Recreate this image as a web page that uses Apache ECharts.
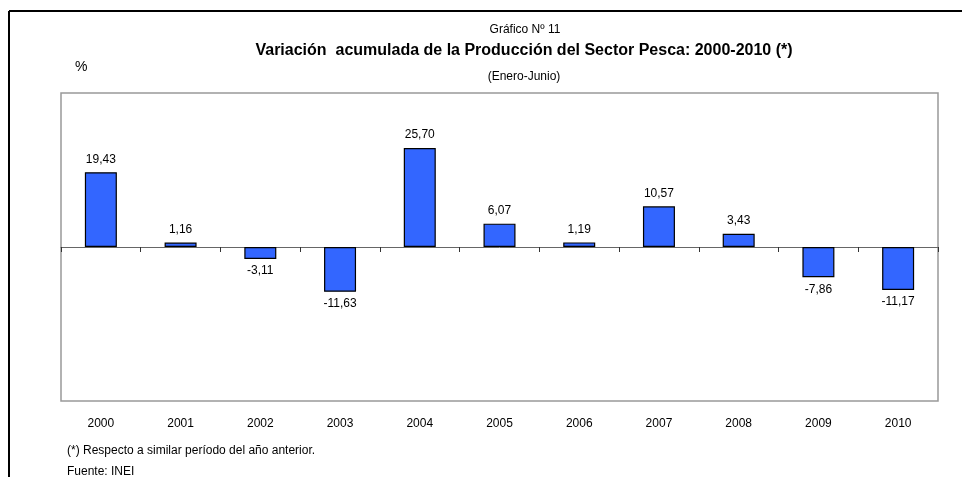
<!DOCTYPE html>
<html>
<head>
<meta charset="utf-8">
<script src="https://cdn.jsdelivr.net/npm/echarts@6/dist/echarts.min.js"></script>
<style>
  html, body { margin: 0; padding: 0; background: #fff; }
  #chart { width: 962px; height: 477px; }
</style>
</head>
<body>
<div id="chart"></div>
<script>
var years = ["2000", "2001", "2002", "2003", "2004", "2005", "2006", "2007", "2008", "2009", "2010"];
var variacion = [19.43, 1.16, -3.11, -11.63, 25.70, 6.07, 1.19, 10.57, 3.43, -7.86, -11.17];

var font = "'Liberation Sans', Arial, sans-serif";
var myChart = echarts.init(document.getElementById("chart"));

// etiqueta arriba para positivos, abajo para negativos
var barData = variacion.map(function (v) {
  return {
    value: v,
    label: { position: v >= 0 ? "top" : "bottom", distance: v >= 0 ? 7 : 6 }
  };
});

var option = {
  backgroundColor: "#fff",
  animation: false,
  textStyle: { fontFamily: font },
  title: [
    {
      text: "Gráfico Nº 11",
      left: 520, top: 19, textAlign: "center",
      textStyle: { fontFamily: font, fontSize: 12, fontWeight: "normal", color: "#000" }
    },
    {
      text: "Variación  acumulada de la Producción del Sector Pesca: 2000-2010 (*)",
      left: 519, top: 38, textAlign: "center",
      textStyle: { fontFamily: font, fontSize: 16, fontWeight: "bold", color: "#000" }
    },
    {
      text: "(Enero-Junio)",
      left: 519, top: 66, textAlign: "center",
      textStyle: { fontFamily: font, fontSize: 12, fontWeight: "normal", color: "#000" }
    },
    {
      text: "%",
      left: 70, top: 55,
      textStyle: { fontFamily: font, fontSize: 14, fontWeight: "normal", color: "#000" }
    }
  ],
  grid: {
    left: 61, right: 24, top: 93, bottom: 76,
    show: true, borderColor: "#999", borderWidth: 1.5, backgroundColor: "#fff"
  },
  xAxis: [
    {
      type: "category",
      data: years,
      axisLine: { onZero: true, lineStyle: { color: "#666", width: 1 } },
      axisTick: { show: true, length: 5, lineStyle: { color: "#333" } },
      axisLabel: { show: false }
    },
    {
      type: "category",
      data: years,
      position: "bottom",
      axisLine: { show: false, onZero: false },
      axisTick: { show: false },
      axisLabel: { margin: 17, fontFamily: font, fontSize: 12, color: "#000" }
    }
  ],
  yAxis: {
    type: "value",
    min: -40, max: 40,
    show: false,
    splitLine: { show: false }
  },
  series: [
    {
      type: "bar",
      xAxisIndex: 0,
      data: barData,
      barWidth: 32,
      itemStyle: { color: "#3366ff", borderColor: "#000", borderWidth: 1.2 },
      label: {
        show: true,
        fontFamily: font, fontSize: 12, color: "#000",
        formatter: function (p) { return p.value.toFixed(2).replace(".", ","); }
      }
    }
  ],
  graphic: [
    { type: "line", shape: { x1: 9, y1: 11, x2: 962, y2: 11 }, style: { stroke: "#000", lineWidth: 2 } },
    { type: "line", shape: { x1: 9, y1: 11, x2: 9, y2: 477 }, style: { stroke: "#000", lineWidth: 2 } },
    {
      type: "text", left: 67, top: 445,
      style: { text: "(*) Respecto a similar período del año anterior.", fontFamily: font, fontSize: 12, fill: "#000" }
    },
    {
      type: "text", left: 67, top: 466,
      style: { text: "Fuente: INEI", fontFamily: font, fontSize: 12, fill: "#000" }
    }
  ]
};
myChart.setOption(option);
</script>
</body>
</html>
